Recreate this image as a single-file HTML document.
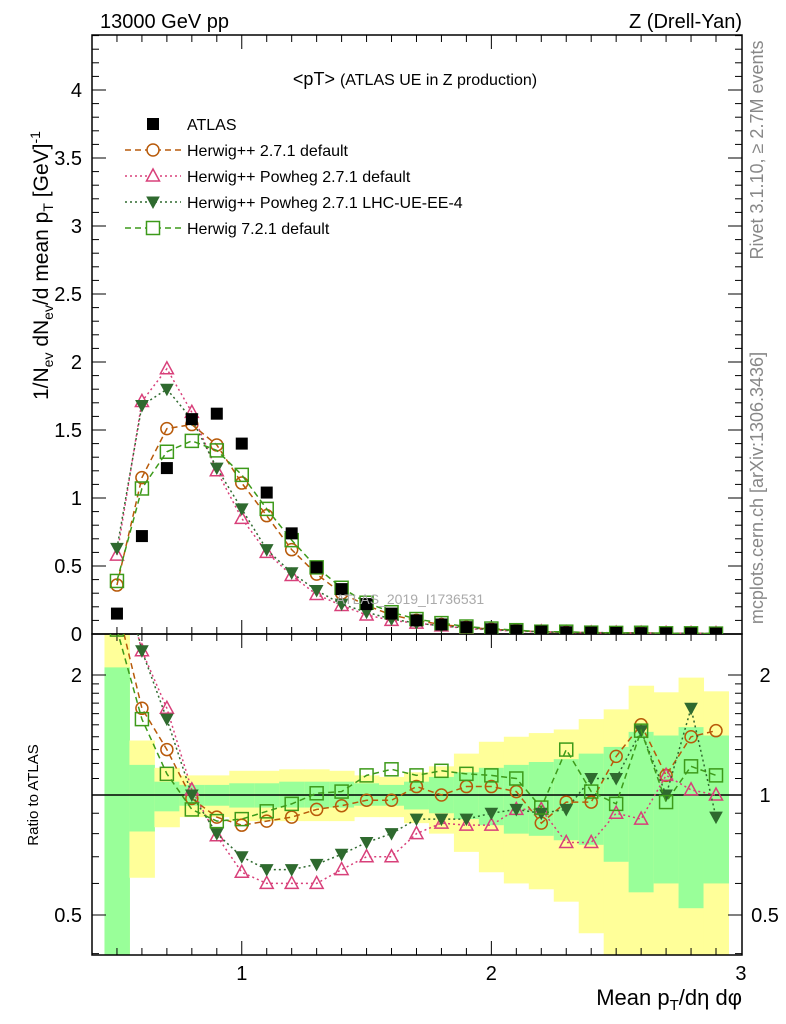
<!DOCTYPE html>
<html><head><meta charset="utf-8"><style>
body{margin:0;background:#fff}
svg{display:block;font-family:"Liberation Sans",sans-serif}
</style></head><body>
<svg id="c" width="786" height="1024" viewBox="0 0 786 1024" xmlns="http://www.w3.org/2000/svg">
<defs>
<clipPath id="cm"><rect x="92" y="35" width="650" height="599"/></clipPath>
<clipPath id="cr"><rect x="92" y="634" width="650" height="321"/></clipPath>
</defs>
<g id="bands" clip-path="url(#cr)"></g>
<g id="grid"></g>
<g id="series"></g>
<text x="100" y="28" font-size="20">13000 GeV pp</text>
<text x="742" y="28" font-size="20" text-anchor="end">Z (Drell-Yan)</text>
<text x="415" y="85" font-size="18" text-anchor="middle">&lt;pT&gt; <tspan font-size="16">(ATLAS UE in Z production)</tspan></text>
<text x="410" y="604" font-size="14" fill="#aaa" text-anchor="middle">ATLAS_2019_I1736531</text>
<text transform="translate(763,150) rotate(-90)" font-size="18" fill="#888" text-anchor="middle">Rivet 3.1.10, ≥ 2.7M events</text>
<text transform="translate(763,488) rotate(-90)" font-size="18" fill="#888" text-anchor="middle">mcplots.cern.ch [arXiv:1306.3436]</text>
<text transform="translate(48,400) rotate(-90)" font-size="21">1/N<tspan font-size="14" dy="5">ev</tspan><tspan dy="-5"> dN</tspan><tspan font-size="14" dy="5">ev</tspan><tspan dy="-5">/d mean p</tspan><tspan font-size="14" dy="5">T</tspan><tspan dy="-5"> [GeV]</tspan><tspan font-size="14" dy="-8">-1</tspan></text>
<text transform="translate(38,795) rotate(-90)" font-size="15" text-anchor="middle">Ratio to ATLAS</text>
<text x="742" y="1005" font-size="22" text-anchor="end">Mean p<tspan font-size="15" dy="5">T</tspan><tspan dy="-5">/dη dφ</tspan></text>
<g id="legend"></g>
</svg>
<script>
const bins=[0.5,0.6,0.7,0.8,0.9,1.0,1.1,1.2,1.3,1.4,1.5,1.6,1.7,1.8,1.9,2.0,2.1,2.2,2.3,2.4,2.5,2.6,2.7,2.8,2.9];
const atlas=[0.15,0.72,1.22,1.58,1.62,1.40,1.04,0.74,0.49,0.33,0.22,0.15,0.10,0.07,0.05,0.035,0.025,0.018,0.013,0.010,0.008,0.006,0.005,0.004,0.003];
const hppDef=[0.36,1.15,1.51,1.54,1.39,1.11,0.87,0.62,0.44,0.30,0.21,0.14,0.10,0.07,0.05,0.035,0.025,0.016,0.012,0.010,0.009,0.008,0.006,0.005,0.004];
const hppPow=[0.58,1.71,1.95,1.63,1.20,0.85,0.60,0.43,0.29,0.21,0.14,0.10,0.08,0.06,0.04,0.03,0.02,0.016,0.010,0.008,0.007,0.006,0.005,0.004,0.003];
const hppPowUE=[0.63,1.68,1.80,1.58,1.22,0.92,0.62,0.45,0.32,0.22,0.16,0.11,0.08,0.06,0.045,0.032,0.023,0.016,0.012,0.011,0.009,0.008,0.005,0.006,0.003];
const h7Def=[0.39,1.07,1.34,1.42,1.35,1.17,0.92,0.69,0.49,0.34,0.23,0.16,0.11,0.08,0.055,0.04,0.028,0.017,0.017,0.010,0.008,0.009,0.005,0.005,0.003];
const rHppDef=[3.0,1.65,1.30,0.98,0.88,0.84,0.86,0.88,0.92,0.94,0.97,0.97,1.05,1.00,1.05,1.05,1.02,0.85,0.96,0.96,1.25,1.50,1.12,1.40,1.45];
const rHppPow=[4.0,2.30,1.65,1.03,0.79,0.64,0.60,0.60,0.60,0.65,0.70,0.70,0.80,0.85,0.84,0.84,0.92,0.92,0.76,0.76,0.90,0.87,1.12,1.03,1.00];
const rHppPowUE=[4.2,2.30,1.55,1.00,0.80,0.70,0.65,0.65,0.67,0.71,0.76,0.80,0.87,0.87,0.87,0.90,0.92,0.90,0.92,1.10,1.10,1.45,1.00,1.65,0.88];
const rH7Def=[2.6,1.55,1.13,0.92,0.86,0.87,0.91,0.95,1.01,1.02,1.12,1.16,1.12,1.15,1.13,1.12,1.10,0.93,1.30,1.02,0.95,1.45,0.96,1.18,1.12];
const yellowHi=[2.6,1.37,1.17,1.12,1.12,1.15,1.15,1.16,1.16,1.15,1.12,1.11,1.14,1.18,1.27,1.36,1.40,1.43,1.46,1.55,1.64,1.88,1.81,1.97,1.82];
const greenHi=[2.09,1.19,1.08,1.06,1.06,1.07,1.07,1.08,1.08,1.08,1.07,1.06,1.08,1.11,1.14,1.17,1.19,1.21,1.23,1.27,1.32,1.44,1.41,1.48,1.41];
const greenLo=[0.3,0.81,0.91,0.94,0.94,0.93,0.93,0.93,0.93,0.93,0.94,0.94,0.92,0.90,0.87,0.84,0.80,0.79,0.77,0.75,0.68,0.57,0.60,0.52,0.60];
const yellowLo=[0.3,0.62,0.83,0.88,0.88,0.86,0.86,0.86,0.86,0.86,0.88,0.88,0.85,0.80,0.72,0.64,0.60,0.58,0.54,0.45,0.3,0.3,0.3,0.3,0.3];
const mainTicks=["0","0.5","1","1.5","2","2.5","3","3.5","4"];
const xTicks=["1","2","3"];
const ratioTicks=["0.5","1","2"];

const NS="http://www.w3.org/2000/svg";
const X=v=>92+(v-0.4)*249.6;
const Ym=v=>634-v*136;
const Yr=v=>795-Math.log2(v)*120;
function mk(tag,attrs,parent){const e=document.createElementNS(NS,tag);for(const k in attrs)e.setAttribute(k,attrs[k]);parent.appendChild(e);return e;}
const bands=document.getElementById('bands'),grid=document.getElementById('grid'),ser=document.getElementById('series'),leg=document.getElementById('legend');

bins.forEach((b,i)=>{
  let r=mk('rect',{x:X(b-0.05),y:Yr(yellowHi[i]),width:X(b+0.05)-X(b-0.05)+0.5,height:Yr(yellowLo[i])-Yr(yellowHi[i]),fill:'#ffff99'},bands);
  
  
  let g=mk('rect',{x:X(b-0.05),y:Yr(greenHi[i]),width:X(b+0.05)-X(b-0.05)+0.5,height:Yr(greenLo[i])-Yr(greenHi[i]),fill:'#99ff99'},bands);
  
  
});
mk('line',{x1:92,x2:742,y1:Yr(1),y2:Yr(1),stroke:'#000','stroke-width':1.5},grid);

let f1=mk('rect',{x:92,y:35,width:650,height:599,fill:'none',stroke:'#000','stroke-width':1.5},grid);

let f2=mk('rect',{x:92,y:634,width:650,height:321,fill:'none',stroke:'#000','stroke-width':1.5},grid);


for(let k=5;k<=29;k++){const v=k/10,x=X(v),maj=(k%10===0);const L=maj?14:7;
  [[35,35+L],[634-L,634],[634,634+L],[955-L,955]].forEach(p=>mk('line',{x1:x,x2:x,y1:p[0],y2:p[1],stroke:'#000'},grid));}
xTicks.forEach(t=>{const e=mk('text',{x:X(+t),y:980,'font-size':20,'text-anchor':'middle'},grid);e.textContent=t;
  });
for(let k=0;k<=44;k++){const v=k/10,y=Ym(v),maj=(k%5===0),L=maj?14:7;
  mk('line',{x1:92,x2:92+L,y1:y,y2:y,stroke:'#000'},grid);mk('line',{x1:742-L,x2:742,y1:y,y2:y,stroke:'#000'},grid);}
mainTicks.forEach(t=>{const e=mk('text',{x:82,y:Ym(+t)+7,'font-size':20,'text-anchor':'end'},grid);e.textContent=t;
  });
[0.4,0.5,0.6,0.7,0.8,0.9,1,2].forEach(v=>{const y=Yr(v),L=(v===0.5||v===1||v===2)?14:7;
  mk('line',{x1:92,x2:92+L,y1:y,y2:y,stroke:'#000'},grid);mk('line',{x1:742-L,x2:742,y1:y,y2:y,stroke:'#000'},grid);});
for(let v=1.1;v<2;v+=0.1){const y=Yr(v);mk('line',{x1:92,x2:99,y1:y,y2:y,stroke:'#000'},grid);mk('line',{x1:735,x2:742,y1:y,y2:y,stroke:'#000'},grid);}
ratioTicks.forEach(t=>{
  const e=mk('text',{x:765,y:Yr(+t)+7,'font-size':20,'text-anchor':'middle'},grid);e.textContent=t;
  
  if(t!=="1"){const e2=mk('text',{x:82,y:Yr(+t)+7,'font-size':20,'text-anchor':'end'},grid);e2.textContent=t;
  }
});

function marker(kind,x,y,col,parent){
  if(kind==='circle')return mk('circle',{cx:x,cy:y,r:6,fill:'none',stroke:col,'stroke-width':1.5},parent);
  if(kind==='tri')return mk('path',{d:`M${x-6.5},${y+5}L${x+6.5},${y+5}L${x},${y-7}Z`,fill:'none',stroke:col,'stroke-width':1.5},parent);
  if(kind==='dtri')return mk('path',{d:`M${x-6},${y-5}L${x+6},${y-5}L${x},${y+6}Z`,fill:col,stroke:col},parent);
  if(kind==='sq')return mk('rect',{x:x-6.5,y:y-6.5,width:13,height:13,fill:'none',stroke:col,'stroke-width':1.5},parent);
  if(kind==='fsq')return mk('rect',{x:x-6,y:y-6,width:12,height:12,fill:col},parent);
}
const series=[
  {name:'herwigpp-2.7.1-default',main:hppDef,ratio:rHppDef,col:'#b85a0a',dash:'6,4',kind:'circle',label:'Herwig++ 2.7.1 default'},
  {name:'herwigpp-powheg-default',main:hppPow,ratio:rHppPow,col:'#d8407a',dash:'2,3',kind:'tri',label:'Herwig++ Powheg 2.7.1 default'},
  {name:'herwigpp-powheg-ue-ee-4',main:hppPowUE,ratio:rHppPowUE,col:'#2f6a2f',dash:'2,3',kind:'dtri',label:'Herwig++ Powheg 2.7.1 LHC-UE-EE-4'},
  {name:'herwig-7.2.1-default',main:h7Def,ratio:rH7Def,col:'#3d9a1a',dash:'6,4',kind:'sq',label:'Herwig 7.2.1 default'}
];
const gm=mk('g',{'clip-path':'url(#cm)'},ser),gr=mk('g',{'clip-path':'url(#cr)'},ser);
series.forEach(s=>{
  const pm=bins.map((b,i)=>X(b)+','+Ym(s.main[i])).join(' ');
  const l1=mk('polyline',{points:pm,fill:'none',stroke:s.col,'stroke-width':1.5,'stroke-dasharray':s.dash},gm);
  
  const pr=bins.map((b,i)=>X(b)+','+Yr(s.ratio[i])).join(' ');
  const l2=mk('polyline',{points:pr,fill:'none',stroke:s.col,'stroke-width':1.5,'stroke-dasharray':s.dash},gr);
  
  bins.forEach((b,i)=>{
    const m=marker(s.kind,X(b),Ym(s.main[i]),s.col,gm);
    
    const r=marker(s.kind,X(b),Yr(s.ratio[i]),s.col,gr);
    
  });
});
bins.forEach((b,i)=>{const m=marker('fsq',X(b),Ym(atlas[i]),'#000',gm);
  });

const ly=[124,150,176,202,228];
let e=marker('fsq',153,ly[0],'#000',leg);
let t=mk('text',{x:187,y:ly[0]+6,'font-size':16},leg);t.textContent='ATLAS';

series.forEach((s,i)=>{const y=ly[i+1];
  const l=mk('line',{x1:125,x2:181,y1:y,y2:y,stroke:s.col,'stroke-width':1.5,'stroke-dasharray':s.dash},leg);
  
  const m=marker(s.kind,153,y,s.col,leg);m.setAttribute('fill',s.kind==='dtri'?s.col:'#fff');
  
  const tx=mk('text',{x:187,y:y+6,'font-size':16},leg);tx.textContent=s.label;
  
});
</script>
</body></html>
